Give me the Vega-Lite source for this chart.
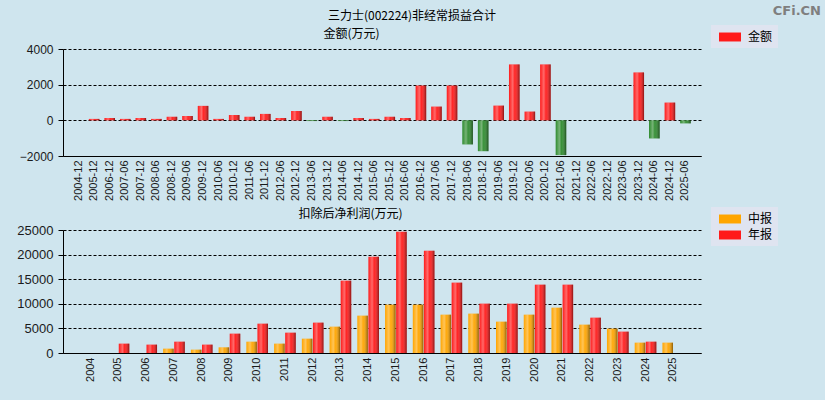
{
  "$schema": "https://vega.github.io/schema/vega-lite/v6.json",
  "background": "#cfe5ee",
  "padding": {"left": 16, "top": 5, "right": 10, "bottom": 18},
  "spacing": 6,
  "title": {"text": "CFi.CN", "font": "DejaVu Sans", "fontSize": 13, "fontWeight": "bold", "color": "#7f7f7f", "anchor": "end", "offset": -8, "dx": 43},
  "resolve": {"scale": {"color": "independent"}, "legend": {"color": "independent"}},
  "config": {
    "view": {"stroke": null},
    "title": {"font": "Noto Sans CJK SC", "fontSize": 12, "fontWeight": "normal", "color": "#000", "offset": 2},
    "axis": {
      "labelFont": "Liberation Sans", "labelColor": "#1a1a1a", "domainColor": "#000", "tickColor": "#000",
      "gridColor": "#000", "gridDash": [3, 2], "gridOpacity": 1,
      "titleFont": "Noto Sans CJK SC", "titleFontSize": 12, "titleFontWeight": "normal", "titleColor": "#000"
    },
    "axisX": {"labelAngle": 270, "labelFontSize": 11, "ticks": false, "grid": false, "labelPadding": 4, "title": null},
    "axisY": {"tickSize": 5, "labelPadding": 5, "format": "d", "titleAngle": 0, "titleY": -16, "titleAlign": "center", "titleBaseline": "middle"},
    "legend": {"orient": "none", "title": null, "fillColor": "#dfe4f0", "padding": 5, "labelFont": "Noto Sans CJK SC", "labelFontSize": 12, "labelColor": "#000", "symbolType": "M-1.57,-0.64H1.57V0.64H-1.57Z", "symbolSize": 196, "symbolStrokeWidth": 0, "symbolOpacity": 1, "symbolOffset": 7, "labelOffset": 11, "rowPadding": 3}
  },
  "vconcat": [
    {
      "width": 638,
      "height": 107,
      "title": {"text": "三力士(002224)非经常损益合计", "dx": 30},
      "data": {"values": [
        {"period": "2005-12", "s": "金额", "v": 80},
        {"period": "2006-12", "s": "金额", "v": 130},
        {"period": "2007-06", "s": "金额", "v": 80},
        {"period": "2007-12", "s": "金额", "v": 130},
        {"period": "2008-06", "s": "金额", "v": 80},
        {"period": "2008-12", "s": "金额", "v": 200},
        {"period": "2009-06", "s": "金额", "v": 245},
        {"period": "2009-12", "s": "金额", "v": 810},
        {"period": "2010-06", "s": "金额", "v": 80},
        {"period": "2010-12", "s": "金额", "v": 300},
        {"period": "2011-06", "s": "金额", "v": 200},
        {"period": "2011-12", "s": "金额", "v": 360},
        {"period": "2012-06", "s": "金额", "v": 130},
        {"period": "2012-12", "s": "金额", "v": 525},
        {"period": "2013-06", "s": "金额", "v": -40},
        {"period": "2013-12", "s": "金额", "v": 200},
        {"period": "2014-06", "s": "金额", "v": -40},
        {"period": "2014-12", "s": "金额", "v": 130},
        {"period": "2015-06", "s": "金额", "v": 80},
        {"period": "2015-12", "s": "金额", "v": 200},
        {"period": "2016-06", "s": "金额", "v": 130},
        {"period": "2016-12", "s": "金额", "v": 1950},
        {"period": "2017-06", "s": "金额", "v": 770},
        {"period": "2017-12", "s": "金额", "v": 1950},
        {"period": "2018-06", "s": "金额", "v": -1350},
        {"period": "2018-12", "s": "金额", "v": -1730},
        {"period": "2019-06", "s": "金额", "v": 825},
        {"period": "2019-12", "s": "金额", "v": 3135},
        {"period": "2020-06", "s": "金额", "v": 490},
        {"period": "2020-12", "s": "金额", "v": 3135},
        {"period": "2021-06", "s": "金额", "v": -1950},
        {"period": "2023-12", "s": "金额", "v": 2685},
        {"period": "2024-06", "s": "金额", "v": -1015},
        {"period": "2024-12", "s": "金额", "v": 995},
        {"period": "2025-06", "s": "金额", "v": -170}
      ]},
      "encoding": {
        "x": {"field": "period", "type": "ordinal", "sort": null,
          "scale": {"domain": ["2004-12","2005-12","2006-12","2007-06","2007-12","2008-06","2008-12","2009-06","2009-12","2010-06","2010-12","2011-06","2011-12","2012-06","2012-12","2013-06","2013-12","2014-06","2014-12","2015-06","2015-12","2016-06","2016-12","2017-06","2017-12","2018-06","2018-12","2019-06","2019-12","2020-06","2020-12","2021-06","2021-12","2022-06","2022-12","2023-06","2023-12","2024-06","2024-12","2025-06"], "paddingInner": 0.32, "paddingOuter": 0.66}},
        "y": {"field": "v", "type": "quantitative", "scale": {"domain": [-2000, 4000], "nice": false},
          "axis": {"values": [-2000, 0, 2000, 4000], "labelFontSize": 12, "title": "金额(万元)", "titleX": 288}}
      },
      "layer": [
        {
          "mark": {"type": "bar"},
          "encoding": {
            "color": {"field": "s", "type": "nominal", "scale": {"domain": ["金额"], "range": ["#ff1a1a"]},
              "condition": {"test": "datum.v < 0", "value": "#2e8b2e"},
              "legend": {"legendX": 648, "legendY": -24}}
          }
        },
        {
          "mark": {"type": "bar", "color": {"gradient": "linear", "x1": 0, "y1": 0, "x2": 1, "y2": 0, "stops": [
            {"offset": 0, "color": "rgba(255,255,255,0)"},
            {"offset": 0.35, "color": "rgba(255,255,255,0.35)"},
            {"offset": 0.55, "color": "rgba(255,255,255,0.05)"},
            {"offset": 1, "color": "rgba(0,0,0,0.45)"}]}},
          "encoding": {}
        }
      ]
    },
    {
      "width": 638,
      "height": 123,
      "data": {"values": [
        {"year": "2005", "s": "年报", "v": 1900},
        {"year": "2006", "s": "年报", "v": 1700},
        {"year": "2007", "s": "中报", "v": 880},
        {"year": "2007", "s": "年报", "v": 2300},
        {"year": "2008", "s": "中报", "v": 680},
        {"year": "2008", "s": "年报", "v": 1700},
        {"year": "2009", "s": "中报", "v": 1150},
        {"year": "2009", "s": "年报", "v": 3930},
        {"year": "2010", "s": "中报", "v": 2300},
        {"year": "2010", "s": "年报", "v": 5960},
        {"year": "2011", "s": "中报", "v": 1900},
        {"year": "2011", "s": "年报", "v": 4130},
        {"year": "2012", "s": "中报", "v": 2910},
        {"year": "2012", "s": "年报", "v": 6170},
        {"year": "2013", "s": "中报", "v": 5350},
        {"year": "2013", "s": "年报", "v": 14700},
        {"year": "2014", "s": "中报", "v": 7590},
        {"year": "2014", "s": "年报", "v": 19580},
        {"year": "2015", "s": "中报", "v": 9820},
        {"year": "2015", "s": "年报", "v": 24660},
        {"year": "2016", "s": "中报", "v": 9820},
        {"year": "2016", "s": "年报", "v": 20800},
        {"year": "2017", "s": "中报", "v": 7790},
        {"year": "2017", "s": "年报", "v": 14300},
        {"year": "2018", "s": "中报", "v": 8000},
        {"year": "2018", "s": "年报", "v": 10030},
        {"year": "2019", "s": "中报", "v": 6370},
        {"year": "2019", "s": "年报", "v": 10030},
        {"year": "2020", "s": "中报", "v": 7790},
        {"year": "2020", "s": "年报", "v": 13890},
        {"year": "2021", "s": "中报", "v": 9210},
        {"year": "2021", "s": "年报", "v": 13890},
        {"year": "2022", "s": "中报", "v": 5760},
        {"year": "2022", "s": "年报", "v": 7180},
        {"year": "2023", "s": "中报", "v": 4950},
        {"year": "2023", "s": "年报", "v": 4340},
        {"year": "2024", "s": "中报", "v": 2100},
        {"year": "2024", "s": "年报", "v": 2300},
        {"year": "2025", "s": "中报", "v": 2100}
      ]},
      "encoding": {
        "x": {"field": "year", "type": "ordinal", "sort": null,
          "scale": {"domain": ["2004","2005","2006","2007","2008","2009","2010","2011","2012","2013","2014","2015","2016","2017","2018","2019","2020","2021","2022","2023","2024","2025"], "paddingInner": 0.22, "paddingOuter": 0.61}},
        "xOffset": {"field": "s", "type": "nominal", "sort": ["中报", "年报"], "scale": {"domain": ["中报", "年报"], "paddingInner": 0.05}},
        "y": {"field": "v", "type": "quantitative", "scale": {"domain": [0, 25000], "nice": false},
          "axis": {"values": [0, 5000, 10000, 15000, 20000, 25000], "labelFontSize": 13, "title": "扣除后净利润(万元)", "titleX": 287, "titleY": -17}}
      },
      "layer": [
        {
          "mark": {"type": "bar"},
          "encoding": {
            "color": {"field": "s", "type": "nominal", "scale": {"domain": ["中报", "年报"], "range": ["#ffa500", "#ff1a1a"]},
              "legend": {"legendX": 648, "legendY": -23}}
          }
        },
        {
          "mark": {"type": "bar", "color": {"gradient": "linear", "x1": 0, "y1": 0, "x2": 1, "y2": 0, "stops": [
            {"offset": 0, "color": "rgba(255,255,255,0)"},
            {"offset": 0.35, "color": "rgba(255,255,255,0.35)"},
            {"offset": 0.55, "color": "rgba(255,255,255,0.05)"},
            {"offset": 1, "color": "rgba(0,0,0,0.45)"}]}},
          "encoding": {}
        }
      ]
    }
  ]
}
